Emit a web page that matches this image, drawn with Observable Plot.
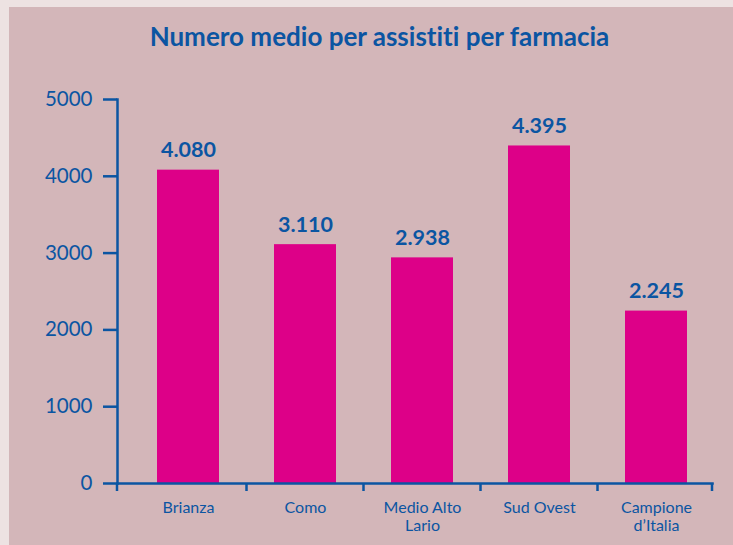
<!DOCTYPE html>
<html>
<head>
<meta charset="utf-8">
<script src="https://cdn.jsdelivr.net/npm/d3@7"></script>
<script src="https://cdn.jsdelivr.net/npm/@observablehq/plot@0.6"></script>
<style>
  html, body { margin: 0; padding: 0; }
  body { width: 733px; height: 545px; background: #ede2e2; position: relative; overflow: hidden; font-family: Lato, sans-serif; font-variant-ligatures: none; }
  #panel { position: absolute; left: 9px; top: 7px; width: 724px; height: 538px; background: #d3b6b9; }
  #title { position: absolute; left: 0; top: 16px; width: 741px; text-align: center; font-size: 26px; line-height: 26px; font-weight: 700; color: #0b55a2; letter-spacing: 0; font-variant-ligatures: none; font-feature-settings: "liga" 0, "clig" 0; }
  #chart { position: absolute; left: 0; top: 0; }
  #chart svg text { font-variant-ligatures: none; font-feature-settings: "liga" 0, "clig" 0; }
</style>
</head>
<body>
<div id="panel">
  <div id="chart"></div>
  <div id="title">Numero medio per assistiti per farmacia</div>
</div>
<script>
const categories = ["Brianza", "Como", "Medio Alto\nLario", "Sud Ovest", "Campione\nd’Italia"];
const values = [4080, 3110, 2938, 4395, 2245];
const yTicks = [0, 1000, 2000, 3000, 4000, 5000];

const BLUE = "#0b55a2";
const MAGENTA = "#dd0088";

const data = categories.map((c, i) => ({category: c, value: values[i]}));
const fmt = v => d3.format(",")(v).replace(/,/g, ".");

const chart = Plot.plot({
  width: 724,
  height: 538,
  marginTop: 92,
  marginBottom: 62,
  marginLeft: 108,
  marginRight: 21,
  style: {background: "transparent", fontFamily: "Lato, sans-serif", color: BLUE, overflow: "visible"},
  x: {domain: categories, paddingInner: 0.471, paddingOuter: 0.274, align: 0.62, label: null},
  y: {domain: [0, 5000], label: null},
  marks: [
    Plot.barY(data, {x: "category", y: "value", fill: MAGENTA}),
    Plot.text(data, {x: "category", y: "value", text: d => fmt(d.value), lineAnchor: "bottom", dy: -13, fill: BLUE, fontSize: 21.5, fontWeight: 700}),
    Plot.axisY({ticks: yTicks, tickSize: 14, tickPadding: 11, fontSize: 20.5, stroke: BLUE, strokeWidth: 2.5, fill: BLUE, tickFormat: d => String(d)}),
    Plot.axisX({tickSize: 0, tickPadding: 17, fontSize: 16, lineHeight: 1.12, fill: BLUE}),
    Plot.frame({anchor: "left", stroke: BLUE, strokeWidth: 2.5}),
    Plot.frame({anchor: "bottom", stroke: BLUE, strokeWidth: 2.5})
  ]
});

// category boundary ticks, positioned through the chart's own scales
const sx = chart.scale("x");
const sy = chart.scale("y");
const centers = categories.map(c => sx.apply(c) + sx.bandwidth / 2);
const bounds = [sx.range[0]];
for (let i = 0; i < centers.length - 1; i++) bounds.push((centers[i] + centers[i + 1]) / 2);
bounds.push(sx.range[1]);
const y0 = sy.apply(0);
d3.select(chart).append("g")
  .attr("stroke", BLUE).attr("stroke-width", 2.5)
  .selectAll("line").data(bounds).join("line")
  .attr("x1", d => d).attr("x2", d => d)
  .attr("y1", y0).attr("y2", y0 + 8);

document.getElementById("chart").appendChild(chart);
</script>
</body>
</html>
